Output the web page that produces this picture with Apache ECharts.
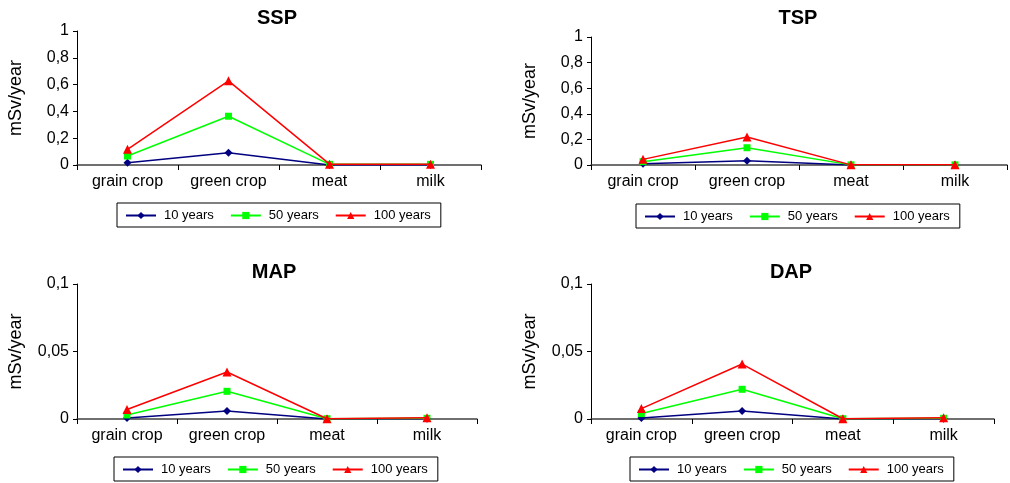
<!DOCTYPE html>
<html>
<head>
<meta charset="utf-8">
<script src="https://cdn.jsdelivr.net/npm/echarts@6/dist/echarts.min.js"></script>
<style>
html,body{margin:0;padding:0;background:#fff;}
#c{width:1010px;height:483px;}
</style>
</head>
<body>
<div id="c"></div>
<script>
// ---- data ----
const categories = ['grain crop', 'green crop', 'meat', 'milk'];
const seriesNames = ['10 years', '50 years', '100 years'];
const panelTitles = ['SSP', 'TSP', 'MAP', 'DAP'];
const yMaxes = [1, 1, 0.1, 0.1];
const yIntervals = [0.2, 0.2, 0.05, 0.05];

const ssp10 = [0.017, 0.092, 0.0, 0.0];
const ssp50 = [0.067, 0.364, 0.005, 0.005];
const ssp100 = [0.117, 0.628, 0.006, 0.006];

const tsp10 = [0.01, 0.034, 0.0, 0.0];
const tsp50 = [0.026, 0.135, 0.001, 0.001];
const tsp100 = [0.044, 0.219, 0.001, 0.001];

const map10 = [0.0007, 0.006, 0.0, 0.0002];
const map50 = [0.003, 0.0205, 0.0002, 0.0005];
const map100 = [0.007, 0.0348, 0.0002, 0.001];

const dap10 = [0.0007, 0.006, 0.0, 0.0002];
const dap50 = [0.004, 0.022, 0.0002, 0.0005];
const dap100 = [0.0077, 0.0407, 0.0002, 0.001];

const panelData = [
  [ssp10, ssp50, ssp100],
  [tsp10, tsp50, tsp100],
  [map10, map50, map100],
  [dap10, dap50, dap100]
];

// ---- layout / style ----
const grids = [
  {left: 77, top: 31, width: 404, height: 134},
  {left: 591, top: 37, width: 416, height: 128},
  {left: 77, top: 284, width: 400, height: 135},
  {left: 591, top: 284, width: 403, height: 135}
];
const titlePos = [[277, 8], [798, 8], [274, 262], [791, 262]];
const legendPos = [[117, 203], [636, 204], [114, 457], [630, 457]];
const colors = ['#000080', '#00FF00', '#FF0000'];
const symbols = ['diamond', 'rect', 'triangle'];
const symbolSizes = [8, 7, 9];
const FONT = 'Liberation Sans, Arial, sans-serif';
const axisColor = '#404040';

const fmt = v => String(+(+v).toFixed(3)).replace('.', ',');

const option = {
  animation: false,
  backgroundColor: '#fff',
  title: panelTitles.map((t, i) => ({
    text: t, left: titlePos[i][0], top: titlePos[i][1], textAlign: 'center', padding: 0,
    textStyle: {fontFamily: FONT, fontWeight: 'bold', fontSize: 20, color: '#000'}
  })),
  legend: legendPos.map(p => ({
    data: seriesNames, left: p[0], top: p[1], orient: 'horizontal',
    borderColor: '#000', borderWidth: 1, padding: [6, 10, 5, 8],
    itemWidth: 30, itemHeight: 9, itemGap: 16,
    textStyle: {fontFamily: FONT, fontSize: 13, color: '#000', padding: [0, 0, 0, 3]}
  })),
  grid: grids.map(g => Object.assign({containLabel: false}, g)),
  xAxis: grids.map((g, i) => ({
    type: 'category', gridIndex: i, data: categories, boundaryGap: true,
    axisLine: {lineStyle: {color: axisColor, width: 1.5}},
    axisTick: {show: true, length: 5, alignWithLabel: false, lineStyle: {color: '#000'}},
    axisLabel: {fontFamily: FONT, fontSize: 16, color: '#000', margin: 9},
    splitLine: {show: false}
  })),
  yAxis: grids.map((g, i) => ({
    type: 'value', gridIndex: i, min: 0, max: yMaxes[i], interval: yIntervals[i],
    name: 'mSv/year', nameLocation: 'middle', nameGap: 52, nameRotate: 90,
    nameTextStyle: {fontFamily: FONT, fontSize: 18, color: '#000'},
    axisLine: {show: true, lineStyle: {color: '#000', width: 1}},
    axisTick: {show: true, length: 4, lineStyle: {color: '#000'}},
    axisLabel: {fontFamily: FONT, fontSize: 16, color: '#000', margin: 8, formatter: fmt},
    splitLine: {show: false}
  })),
  series: []
};

panelData.forEach((arrs, pi) => {
  arrs.forEach((arr, si) => {
    option.series.push({
      type: 'line', name: seriesNames[si], xAxisIndex: pi, yAxisIndex: pi,
      data: arr, symbol: symbols[si], symbolSize: symbolSizes[si],
      showAllSymbol: true,
      lineStyle: {color: colors[si], width: 1.5},
      itemStyle: {color: colors[si]},
      z: 2 + si
    });
  });
});

const chart = echarts.init(document.getElementById('c'), null, {renderer: 'canvas'});
chart.setOption(option);
</script>
</body>
</html>
